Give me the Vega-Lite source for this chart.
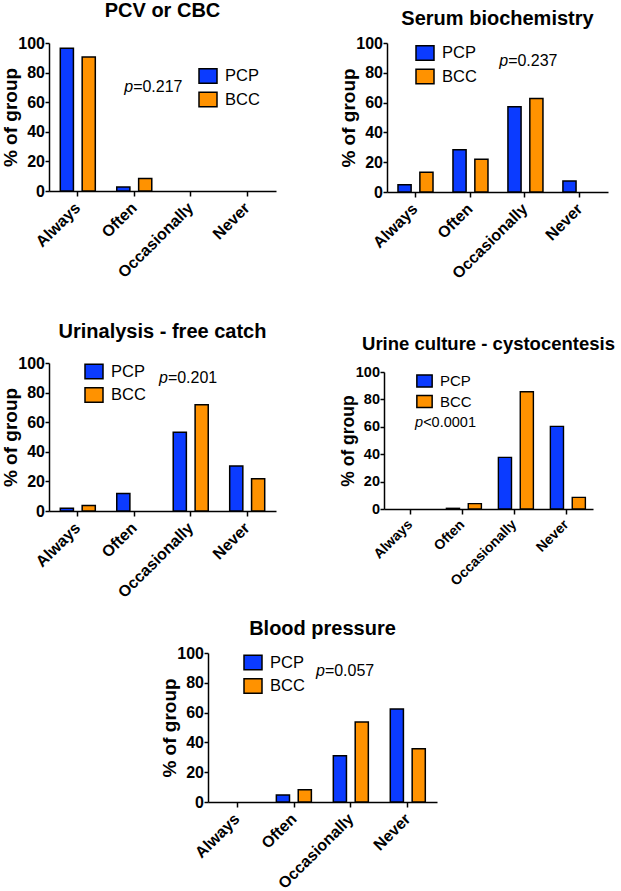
{
  "$schema": "https://vega.github.io/schema/vega-lite/v6.json",
  "padding": {"left": 0, "top": 1, "right": 0, "bottom": 0},
  "background": "white",
  "datasets": {
    "survey": [
      {"test": "PCV or CBC", "freq": "Always", "group": "PCP", "pct": 96.5},
      {"test": "PCV or CBC", "freq": "Always", "group": "BCC", "pct": 90.5},
      {"test": "PCV or CBC", "freq": "Often", "group": "PCP", "pct": 2.7},
      {"test": "PCV or CBC", "freq": "Often", "group": "BCC", "pct": 8.4},
      {"test": "PCV or CBC", "freq": "Occasionally", "group": "PCP", "pct": 0},
      {"test": "PCV or CBC", "freq": "Occasionally", "group": "BCC", "pct": 0},
      {"test": "PCV or CBC", "freq": "Never", "group": "PCP", "pct": 0},
      {"test": "PCV or CBC", "freq": "Never", "group": "BCC", "pct": 0},
      {"test": "Serum biochemistry", "freq": "Always", "group": "PCP", "pct": 4.9},
      {"test": "Serum biochemistry", "freq": "Always", "group": "BCC", "pct": 13.2},
      {"test": "Serum biochemistry", "freq": "Often", "group": "PCP", "pct": 28.3},
      {"test": "Serum biochemistry", "freq": "Often", "group": "BCC", "pct": 22.0},
      {"test": "Serum biochemistry", "freq": "Occasionally", "group": "PCP", "pct": 57.2},
      {"test": "Serum biochemistry", "freq": "Occasionally", "group": "BCC", "pct": 62.8},
      {"test": "Serum biochemistry", "freq": "Never", "group": "PCP", "pct": 7.4},
      {"test": "Serum biochemistry", "freq": "Never", "group": "BCC", "pct": 0},
      {"test": "Urinalysis - free catch", "freq": "Always", "group": "PCP", "pct": 1.8},
      {"test": "Urinalysis - free catch", "freq": "Always", "group": "BCC", "pct": 3.8},
      {"test": "Urinalysis - free catch", "freq": "Often", "group": "PCP", "pct": 11.9},
      {"test": "Urinalysis - free catch", "freq": "Often", "group": "BCC", "pct": 0},
      {"test": "Urinalysis - free catch", "freq": "Occasionally", "group": "PCP", "pct": 53.2},
      {"test": "Urinalysis - free catch", "freq": "Occasionally", "group": "BCC", "pct": 71.8},
      {"test": "Urinalysis - free catch", "freq": "Never", "group": "PCP", "pct": 30.4},
      {"test": "Urinalysis - free catch", "freq": "Never", "group": "BCC", "pct": 21.8},
      {"test": "Urine culture - cystocentesis", "freq": "Always", "group": "PCP", "pct": 0},
      {"test": "Urine culture - cystocentesis", "freq": "Always", "group": "BCC", "pct": 0},
      {"test": "Urine culture - cystocentesis", "freq": "Often", "group": "PCP", "pct": 0.5},
      {"test": "Urine culture - cystocentesis", "freq": "Often", "group": "BCC", "pct": 3.9},
      {"test": "Urine culture - cystocentesis", "freq": "Occasionally", "group": "PCP", "pct": 37.7},
      {"test": "Urine culture - cystocentesis", "freq": "Occasionally", "group": "BCC", "pct": 85.6},
      {"test": "Urine culture - cystocentesis", "freq": "Never", "group": "PCP", "pct": 60.3},
      {"test": "Urine culture - cystocentesis", "freq": "Never", "group": "BCC", "pct": 8.5},
      {"test": "Blood pressure", "freq": "Always", "group": "PCP", "pct": 0},
      {"test": "Blood pressure", "freq": "Always", "group": "BCC", "pct": 0},
      {"test": "Blood pressure", "freq": "Often", "group": "PCP", "pct": 4.7},
      {"test": "Blood pressure", "freq": "Often", "group": "BCC", "pct": 8.3},
      {"test": "Blood pressure", "freq": "Occasionally", "group": "PCP", "pct": 31.0},
      {"test": "Blood pressure", "freq": "Occasionally", "group": "BCC", "pct": 53.7},
      {"test": "Blood pressure", "freq": "Never", "group": "PCP", "pct": 62.5},
      {"test": "Blood pressure", "freq": "Never", "group": "BCC", "pct": 35.7}
    ],
    "pvals": [
      {"test": "PCV or CBC", "p": "p", "rest": "=0.217"},
      {"test": "Serum biochemistry", "p": "p", "rest": "=0.237"},
      {"test": "Urinalysis - free catch", "p": "p", "rest": "=0.201"},
      {"test": "Urine culture - cystocentesis", "p": "p", "rest": "<0.0001"},
      {"test": "Blood pressure", "p": "p", "rest": "=0.057"}
    ],
    "empty": []
  },
  "vconcat": [
    {
      "vconcat": [
        {
          "hconcat": [
            {
              "title": {"text": "PCV or CBC", "offset": 14},
              "width": 227, "height": 148,
              "resolve": {"scale": {"x": "independent", "y": "independent"}},
              "layer": [
                {
                  "data": {"name": "survey"},
                  "transform": [{"filter": "datum.test === 'PCV or CBC' && datum.pct > 0"}],
                  "mark": {"type": "bar", "stroke": "#000", "strokeWidth": 1.5},
                  "encoding": {
                    "x": {"field": "freq", "type": "nominal", "scale": {"domain": ["Always", "Often", "Occasionally", "Never"], "paddingInner": 0.38, "paddingOuter": 0.2}, "axis": {"title": null}},
                    "xOffset": {"field": "group", "type": "nominal", "scale": {"domain": ["PCP", "BCC"], "paddingInner": 0.4, "paddingOuter": 0}},
                    "y": {"field": "pct", "type": "quantitative", "scale": {"domain": [0, 100], "nice": false}, "axis": {"values": [0, 20, 40, 60, 80, 100], "title": "% of group", "labelOverlap": false}},
                    "color": {"field": "group", "type": "nominal", "scale": {"domain": ["PCP", "BCC"], "range": ["#0b3bff", "#ff9200"]}, "legend": {"title": null, "orient": "none", "legendX": 149, "legendY": 23, "direction": "vertical"}}
                  }
                },
                {
                  "data": {"name": "pvals"},
                  "transform": [{"filter": "datum.test === 'PCV or CBC'"}],
                  "mark": {"type": "text", "fontStyle": "italic", "fontSize": 16, "align": "right", "dx": -1, "color": "#000"},
                  "encoding": {
                    "x": {"datum": "Often", "scale": {"domain": ["Always", "Often", "Occasionally", "Never"], "paddingInner": 0.38, "paddingOuter": 0.2}, "axis": null},
                    "y": {"datum": 70, "scale": {"domain": [0, 100], "nice": false, "zero": false}, "axis": null},
                    "text": {"field": "p"}
                  }
                },
                {
                  "data": {"name": "pvals"},
                  "transform": [{"filter": "datum.test === 'PCV or CBC'"}],
                  "mark": {"type": "text", "fontSize": 16, "align": "left", "dx": -1, "color": "#000"},
                  "encoding": {
                    "x": {"datum": "Often", "scale": {"domain": ["Always", "Often", "Occasionally", "Never"], "paddingInner": 0.38, "paddingOuter": 0.2}, "axis": null},
                    "y": {"datum": 70, "scale": {"domain": [0, 100], "nice": false, "zero": false}, "axis": null},
                    "text": {"field": "rest"}
                  }
                }
              ]
            },
            {
              "title": {"text": "Serum biochemistry", "offset": 6},
              "width": 221, "height": 149,
              "resolve": {"scale": {"x": "independent", "y": "independent"}},
              "layer": [
                {
                  "data": {"name": "survey"},
                  "transform": [{"filter": "datum.test === 'Serum biochemistry' && datum.pct > 0"}],
                  "mark": {"type": "bar", "stroke": "#000", "strokeWidth": 1.5},
                  "encoding": {
                    "x": {"field": "freq", "type": "nominal", "scale": {"domain": ["Always", "Often", "Occasionally", "Never"], "paddingInner": 0.38, "paddingOuter": 0.2}, "axis": {"title": null}},
                    "xOffset": {"field": "group", "type": "nominal", "scale": {"domain": ["PCP", "BCC"], "paddingInner": 0.4, "paddingOuter": 0}},
                    "y": {"field": "pct", "type": "quantitative", "scale": {"domain": [0, 100], "nice": false}, "axis": {"values": [0, 20, 40, 60, 80, 100], "title": "% of group", "labelOverlap": false}},
                    "color": {"field": "group", "type": "nominal", "scale": {"domain": ["PCP", "BCC"], "range": ["#0b3bff", "#ff9200"]}, "legend": {"title": null, "orient": "none", "legendX": 28, "legendY": 0, "direction": "vertical"}}
                  }
                },
                {
                  "data": {"name": "pvals"},
                  "transform": [{"filter": "datum.test === 'Serum biochemistry'"}],
                  "mark": {"type": "text", "fontStyle": "italic", "fontSize": 16, "align": "right", "dx": -17, "color": "#000"},
                  "encoding": {
                    "x": {"datum": "Occasionally", "scale": {"domain": ["Always", "Often", "Occasionally", "Never"], "paddingInner": 0.38, "paddingOuter": 0.2}, "axis": null},
                    "y": {"datum": 88, "scale": {"domain": [0, 100], "nice": false, "zero": false}, "axis": null},
                    "text": {"field": "p"}
                  }
                },
                {
                  "data": {"name": "pvals"},
                  "transform": [{"filter": "datum.test === 'Serum biochemistry'"}],
                  "mark": {"type": "text", "fontSize": 16, "align": "left", "dx": -17, "color": "#000"},
                  "encoding": {
                    "x": {"datum": "Occasionally", "scale": {"domain": ["Always", "Often", "Occasionally", "Never"], "paddingInner": 0.38, "paddingOuter": 0.2}, "axis": null},
                    "y": {"datum": 88, "scale": {"domain": [0, 100], "nice": false, "zero": false}, "axis": null},
                    "text": {"field": "rest"}
                  }
                }
              ]
            }
          ],
          "spacing": 62,
          "resolve": {"scale": {"color": "independent"}, "legend": {"color": "independent"}}
        },
        {
          "hconcat": [
            {
              "title": {"text": "Urinalysis - free catch", "offset": 13},
              "width": 227, "height": 148,
              "resolve": {"scale": {"x": "independent", "y": "independent"}},
              "layer": [
                {
                  "data": {"name": "survey"},
                  "transform": [{"filter": "datum.test === 'Urinalysis - free catch' && datum.pct > 0"}],
                  "mark": {"type": "bar", "stroke": "#000", "strokeWidth": 1.5},
                  "encoding": {
                    "x": {"field": "freq", "type": "nominal", "scale": {"domain": ["Always", "Often", "Occasionally", "Never"], "paddingInner": 0.38, "paddingOuter": 0.2}, "axis": {"title": null}},
                    "xOffset": {"field": "group", "type": "nominal", "scale": {"domain": ["PCP", "BCC"], "paddingInner": 0.4, "paddingOuter": 0}},
                    "y": {"field": "pct", "type": "quantitative", "scale": {"domain": [0, 100], "nice": false}, "axis": {"values": [0, 20, 40, 60, 80, 100], "title": "% of group", "labelOverlap": false}},
                    "color": {"field": "group", "type": "nominal", "scale": {"domain": ["PCP", "BCC"], "range": ["#0b3bff", "#ff9200"]}, "legend": {"title": null, "orient": "none", "legendX": 35, "legendY": -1.5, "direction": "vertical"}}
                  }
                },
                {
                  "data": {"name": "pvals"},
                  "transform": [{"filter": "datum.test === 'Urinalysis - free catch'"}],
                  "mark": {"type": "text", "fontStyle": "italic", "fontSize": 16, "align": "right", "dx": -23, "color": "#000"},
                  "encoding": {
                    "x": {"datum": "Occasionally", "scale": {"domain": ["Always", "Often", "Occasionally", "Never"], "paddingInner": 0.38, "paddingOuter": 0.2}, "axis": null},
                    "y": {"datum": 89.7, "scale": {"domain": [0, 100], "nice": false, "zero": false}, "axis": null},
                    "text": {"field": "p"}
                  }
                },
                {
                  "data": {"name": "pvals"},
                  "transform": [{"filter": "datum.test === 'Urinalysis - free catch'"}],
                  "mark": {"type": "text", "fontSize": 16, "align": "left", "dx": -23, "color": "#000"},
                  "encoding": {
                    "x": {"datum": "Occasionally", "scale": {"domain": ["Always", "Often", "Occasionally", "Never"], "paddingInner": 0.38, "paddingOuter": 0.2}, "axis": null},
                    "y": {"datum": 89.7, "scale": {"domain": [0, 100], "nice": false, "zero": false}, "axis": null},
                    "text": {"field": "rest"}
                  }
                }
              ]
            },
            {
              "title": {"text": "Urine culture - cystocentesis", "offset": 10, "fontSize": 18.5},
              "width": 209, "height": 146,
              "resolve": {"scale": {"x": "independent", "y": "independent"}},
              "layer": [
                {
                  "data": {"name": "survey"},
                  "transform": [{"filter": "datum.test === 'Urine culture - cystocentesis' && datum.pct > 0"}],
                  "mark": {"type": "bar", "stroke": "#000", "strokeWidth": 1.4},
                  "encoding": {
                    "x": {"field": "freq", "type": "nominal", "scale": {"domain": ["Always", "Often", "Occasionally", "Never"], "paddingInner": 0.38, "paddingOuter": 0.2}, "axis": {"title": null, "labelFontSize": 14, "labelPadding": 8}},
                    "xOffset": {"field": "group", "type": "nominal", "scale": {"domain": ["PCP", "BCC"], "paddingInner": 0.4, "paddingOuter": 0}},
                    "y": {"field": "pct", "type": "quantitative", "scale": {"domain": [0, 100], "nice": false, "range": [146, 9]}, "axis": {"values": [0, 20, 40, 60, 80, 100], "title": "% of group", "labelFontSize": 14.5, "titleFontSize": 17.5, "titleX": -27, "labelOverlap": false}},
                    "color": {"field": "group", "type": "nominal", "scale": {"domain": ["PCP", "BCC"], "range": ["#0b3bff", "#ff9200"]}, "legend": {"title": null, "orient": "none", "legendX": 32, "legendY": 9.5, "direction": "vertical", "symbolSize": 234, "labelFontSize": 15, "rowPadding": 1.5}}
                  }
                },
                {
                  "data": {"name": "pvals"},
                  "transform": [{"filter": "datum.test === 'Urine culture - cystocentesis'"}],
                  "mark": {"type": "text", "fontStyle": "italic", "fontSize": 14.5, "align": "right", "dx": 13, "color": "#000"},
                  "encoding": {
                    "x": {"datum": "Always", "scale": {"domain": ["Always", "Often", "Occasionally", "Never"], "paddingInner": 0.38, "paddingOuter": 0.2}, "axis": null},
                    "y": {"datum": 63, "scale": {"domain": [0, 100], "nice": false, "zero": false, "range": [146, 9]}, "axis": null},
                    "text": {"field": "p"}
                  }
                },
                {
                  "data": {"name": "pvals"},
                  "transform": [{"filter": "datum.test === 'Urine culture - cystocentesis'"}],
                  "mark": {"type": "text", "fontSize": 14.5, "align": "left", "dx": 13, "color": "#000"},
                  "encoding": {
                    "x": {"datum": "Always", "scale": {"domain": ["Always", "Often", "Occasionally", "Never"], "paddingInner": 0.38, "paddingOuter": 0.2}, "axis": null},
                    "y": {"datum": 63, "scale": {"domain": [0, 100], "nice": false, "zero": false, "range": [146, 9]}, "axis": null},
                    "text": {"field": "rest"}
                  }
                }
              ]
            }
          ],
          "spacing": 62,
          "resolve": {"scale": {"color": "independent"}, "legend": {"color": "independent"}}
        }
      ],
      "spacing": 40,
      "resolve": {"scale": {"color": "independent"}, "legend": {"color": "independent"}}
    },
    {
      "hconcat": [
        {
          "data": {"name": "empty"},
          "mark": "point",
          "width": 100, "height": 10
        },
        {
          "title": {"text": "Blood pressure", "offset": 6},
          "width": 229, "height": 149,
          "resolve": {"scale": {"x": "independent", "y": "independent"}},
          "layer": [
            {
              "data": {"name": "survey"},
              "transform": [{"filter": "datum.test === 'Blood pressure' && datum.pct > 0"}],
              "mark": {"type": "bar", "stroke": "#000", "strokeWidth": 1.5},
              "encoding": {
                "x": {"field": "freq", "type": "nominal", "scale": {"domain": ["Always", "Often", "Occasionally", "Never"], "paddingInner": 0.38, "paddingOuter": 0.2}, "axis": {"title": null}},
                "xOffset": {"field": "group", "type": "nominal", "scale": {"domain": ["PCP", "BCC"], "paddingInner": 0.4, "paddingOuter": 0}},
                "y": {"field": "pct", "type": "quantitative", "scale": {"domain": [0, 100], "nice": false}, "axis": {"values": [0, 20, 40, 60, 80, 100], "title": "% of group", "labelOverlap": false}},
                "color": {"field": "group", "type": "nominal", "scale": {"domain": ["PCP", "BCC"], "range": ["#0b3bff", "#ff9200"]}, "legend": {"title": null, "orient": "none", "legendX": 35, "legendY": -0.5, "direction": "vertical"}}
              }
            },
            {
              "data": {"name": "pvals"},
              "transform": [{"filter": "datum.test === 'Blood pressure'"}],
              "mark": {"type": "text", "fontStyle": "italic", "fontSize": 16, "align": "right", "dx": 31, "color": "#000"},
              "encoding": {
                "x": {"datum": "Often", "scale": {"domain": ["Always", "Often", "Occasionally", "Never"], "paddingInner": 0.38, "paddingOuter": 0.2}, "axis": null},
                "y": {"datum": 88, "scale": {"domain": [0, 100], "nice": false, "zero": false}, "axis": null},
                "text": {"field": "p"}
              }
            },
            {
              "data": {"name": "pvals"},
              "transform": [{"filter": "datum.test === 'Blood pressure'"}],
              "mark": {"type": "text", "fontSize": 16, "align": "left", "dx": 31, "color": "#000"},
              "encoding": {
                "x": {"datum": "Often", "scale": {"domain": ["Always", "Often", "Occasionally", "Never"], "paddingInner": 0.38, "paddingOuter": 0.2}, "axis": null},
                "y": {"datum": 88, "scale": {"domain": [0, 100], "nice": false, "zero": false}, "axis": null},
                "text": {"field": "rest"}
              }
            }
          ]
        }
      ],
      "spacing": 10,
      "resolve": {"scale": {"color": "independent"}, "legend": {"color": "independent"}}
    }
  ],
  "spacing": 18,
  "resolve": {"scale": {"color": "independent"}, "legend": {"color": "independent"}},
  "config": {
    "font": "Liberation Sans",
    "view": {"stroke": null},
    "axis": {
      "domainColor": "#000", "domainWidth": 1.5,
      "tickColor": "#000", "tickWidth": 1.5, "tickSize": 5,
      "labelColor": "#000", "labelFontWeight": "bold", "labelFontSize": 16,
      "titleColor": "#000", "titleFontWeight": "bold", "titleFontSize": 19,
      "grid": false, "labelPadding": 3, "titlePadding": 3, "labelOverlap": false
    },
    "axisY": {"labelOverlap": false, "tickSize": 4, "labelPadding": 0.5, "titleX": -29},
    "axisX": {"labelAngle": -45, "labelBaseline": "middle", "labelAlign": "right", "labelPadding": 9},
    "title": {"fontSize": 20, "fontWeight": "bold", "color": "#000", "anchor": "middle"},
    "legend": {
      "symbolType": "M-1,-0.8H1V0.8H-1Z",
      "symbolSize": 324,
      "symbolStrokeColor": "#000",
      "symbolStrokeWidth": 1.5,
      "labelFontSize": 16.5,
      "labelColor": "#000",
      "labelOffset": 7,
      "rowPadding": 1.5,
      "padding": 0
    }
  }
}
